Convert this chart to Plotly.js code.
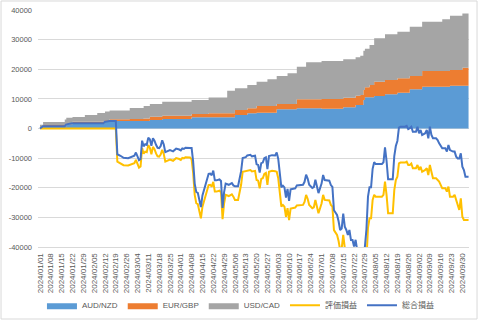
<!DOCTYPE html>
<html><head><meta charset="utf-8">
<script src="https://cdn.plot.ly/plotly-3.0.1.min.js"></script>
<style>html,body{margin:0;padding:0;background:#fff}#chart{width:480px;height:321px}</style>
</head><body><div id="chart"></div>
<script>
// stacked realized profit (step areas)
const areaDates = ['2024-01-01','2024-01-03','2024-01-17','2024-01-18','2024-01-22','2024-01-30','2024-02-07','2024-02-12','2024-02-15','2024-02-28',
'2024-03-08','2024-03-12','2024-03-20','2024-04-08','2024-04-19','2024-05-01','2024-05-06','2024-05-14','2024-05-20','2024-05-27',
'2024-06-02','2024-06-09','2024-06-15','2024-06-21','2024-07-01','2024-07-15','2024-07-23','2024-07-26','2024-07-28','2024-07-29',
'2024-08-01','2024-08-04','2024-08-11','2024-08-19','2024-08-27','2024-09-04','2024-09-17','2024-09-22','2024-09-30','2024-10-04'];
const audNzd = [0,800,800,1400,1750,1750,1750,2300,2500,2500,2500,2870,3200,3780,3780,3780,4560,5130,5330,5330,6480,6480,6820,6820,6700,7150,7930,7930,9620,10530,10530,10970,11540,12080,13230,14110,14110,14440,14440,14440];
const eurGbp = [300,400,400,400,500,500,500,500,600,700,900,1100,1100,1100,1350,1350,1680,1690,2260,2260,1790,1790,3030,3030,3260,3250,3140,3400,3400,3370,4150,4830,4830,4860,4490,5290,5290,5300,6080,6080];
const usdCad = [1000,1000,1800,1800,1650,2300,2950,2950,2950,3700,4200,4300,4750,4750,5370,7620,7330,7860,8210,9010,9430,10360,11010,12490,12820,12950,12960,13200,13200,13000,13500,14640,15420,15730,16640,16640,17450,18330,18330,18330];

// lines
const lineDates = ['01-01','01-03','01-17','01-18','01-22','02-11','02-12','02-15','02-19','02-20','02-22','02-24','02-27','02-29','03-02','03-03','03-04','03-05','03-06','03-07','03-08','03-09','03-10','03-11','03-12','03-13','03-14','03-15','03-16','03-17','03-18','03-19','03-20','03-21','03-22','03-24','03-25','03-27','03-28','03-29','03-31','04-01','04-02','04-03','04-04','04-05','04-07','04-08','04-09','04-10','04-11','04-12','04-13','04-14','04-15','04-16','04-17','04-18','04-19','04-20','04-21','04-22','04-23','04-24','04-26','04-27','04-28','04-29','04-30','05-02','05-04','05-05','05-06','05-08','05-09','05-10','05-11','05-13','05-14','05-16','05-17','05-19','05-20','05-21','05-22','05-23','05-24','05-25','05-26','05-27','05-28','05-30','06-01','06-02','06-03','06-04','06-05','06-06','06-07','06-08','06-09','06-10','06-11','06-12','06-14','06-15','06-17','06-19','06-20','06-21','06-22','06-23','06-25','06-26','06-27','06-29','07-01','07-02','07-03','07-05','07-06','07-07','07-08','07-09','07-11','07-12','07-13','07-14','07-15','07-16','07-17','07-18','07-19','07-20','07-21','07-22','07-23','07-24','07-25','07-26','07-27','07-28','07-29','07-30','07-31','08-01','08-02','08-03','08-04','08-05','08-07','08-09','08-10','08-11','08-12','08-13','08-14','08-16','08-17','08-18','08-19','08-20','08-21','08-23','08-24','08-25','08-26','08-27','08-28','08-29','08-31','09-01','09-02','09-03','09-04','09-06','09-07','09-08','09-09','09-10','09-11','09-13','09-14','09-15','09-17','09-19','09-20','09-21','09-22','09-24','09-25','09-26','09-27','09-28','09-29','09-30','10-01','10-02','10-04'].map(s => '2024-' + s);
const evalPL = [0,0,0,0,0,0,0,0,0,-11200,-11700,-12400,-12500,-12000,-11700,-10600,-12000,-13200,-12800,-6600,-8500,-7800,-8000,-5600,-6500,-8700,-6200,-7000,-8400,-9400,-9500,-8800,-7200,-8600,-11200,-10800,-10500,-10900,-10400,-10000,-10300,-10600,-9900,-10100,-9700,-9800,-9800,-10400,-15000,-22400,-25200,-25500,-27500,-30300,-26400,-24500,-22400,-20500,-19100,-19000,-19600,-18000,-21300,-21300,-21000,-21500,-30600,-25300,-22400,-22800,-22200,-23000,-24100,-24100,-21900,-19000,-14600,-14300,-14200,-14000,-14500,-14300,-17400,-17600,-20200,-17000,-16800,-15300,-15000,-19000,-14600,-14300,-14400,-14600,-16800,-22400,-26400,-25800,-26400,-29800,-26900,-30900,-27000,-26900,-26700,-26000,-25800,-25800,-24800,-22400,-23700,-25800,-26900,-26600,-24100,-28600,-25300,-22400,-24100,-24100,-24300,-25800,-26400,-34300,-35900,-38000,-41000,-40500,-35900,-40300,-41400,-43100,-41400,-44800,-44800,-47000,-45500,-49000,-50000,-50500,-49500,-51000,-50500,-44500,-33500,-30300,-30300,-24100,-22400,-23000,-23000,-23000,-22400,-17900,-22400,-28600,-28600,-28600,-20800,-17400,-16300,-11800,-11500,-11500,-11500,-11200,-12300,-12300,-11800,-13400,-13400,-12300,-14000,-12900,-14600,-14000,-13400,-15700,-12300,-14600,-16800,-16800,-17400,-17900,-20200,-20200,-21300,-19600,-23000,-23000,-22400,-24100,-25800,-27500,-23600,-29800,-30900,-30900,-30900];
const totalPL = [0,800,800,1400,1750,1750,2300,2500,2500,-8700,-9200,-9900,-10000,-9500,-9200,-8100,-9500,-10700,-10300,-4100,-6000,-5300,-5500,-3100,-3600,-5800,-3300,-4100,-5500,-6500,-6600,-5900,-4000,-5400,-8000,-7600,-7300,-7700,-7200,-6800,-7100,-7400,-6700,-6900,-6500,-6600,-6600,-6600,-11200,-18600,-21400,-21700,-23700,-26500,-22600,-20700,-18600,-16700,-15300,-15200,-15800,-14200,-17500,-17500,-17200,-17700,-26800,-21500,-18600,-19000,-18400,-19200,-19500,-19500,-17300,-14400,-10000,-9700,-9100,-8900,-9400,-9200,-12100,-12300,-14900,-11700,-11500,-10000,-9700,-13700,-9300,-9000,-9100,-8100,-10300,-15900,-19900,-19300,-19900,-23300,-20400,-24400,-20500,-20400,-20200,-19200,-19000,-19000,-18000,-15600,-16900,-19000,-20100,-19800,-17300,-21800,-18600,-15700,-17400,-17400,-17600,-19100,-19700,-27600,-29200,-31300,-34300,-33800,-28750,-33150,-34250,-35950,-34250,-37650,-37650,-39850,-37570,-41070,-42070,-42570,-41570,-41380,-39970,-34000,-23000,-19800,-19800,-13600,-11400,-12000,-12000,-12000,-11400,-6400,-10900,-17100,-17100,-17100,-9300,-5900,-4200,300,600,600,600,900,-200,100,600,-1100,-1100,600,-1600,-500,-2200,-1600,-500,-3300,600,-2200,-3300,-3300,-3900,-5000,-6700,-6700,-7800,-5600,-7300,-7800,-7800,-9500,-10100,-10100,-8400,-12900,-14000,-16300,-16300];

const yTickVals = [-40000,-30000,-20000,-10000,0,10000,20000,30000,40000];
const yTickText = ['-40000','-30000','-20000','-10000','0','10000','20000','30000','40000'];

const FONT = 'Liberation Sans, Arial, Noto Sans CJK JP, sans-serif';
const traces = [
  {x: areaDates, y: audNzd, name: 'AUD/NZD', type: 'scatter', mode: 'lines', stackgroup: 'realized',
   line: {shape: 'hv', width: 0, color: '#5B9BD5'}, fillcolor: '#5B9BD5'},
  {x: areaDates, y: eurGbp, name: 'EUR/GBP', type: 'scatter', mode: 'lines', stackgroup: 'realized',
   line: {shape: 'hv', width: 0, color: '#ED7D31'}, fillcolor: '#ED7D31'},
  {x: areaDates, y: usdCad, name: 'USD/CAD', type: 'scatter', mode: 'lines', stackgroup: 'realized',
   line: {shape: 'hv', width: 0, color: '#A5A5A5'}, fillcolor: '#A5A5A5'},
  {x: lineDates, y: evalPL, name: '評価損益', type: 'scatter', mode: 'lines',
   line: {color: '#FFC000', width: 2}},
  {x: lineDates, y: totalPL, name: '総合損益', type: 'scatter', mode: 'lines',
   line: {color: '#4472C4', width: 2}}
];

const layout = {
  width: 480, height: 321,
  margin: {l: 38, r: 11, t: 10, b: 74, autoexpand: false},
  paper_bgcolor: '#fff', plot_bgcolor: '#fff',
  font: {family: FONT, size: 8, color: '#595959'},
  showlegend: true,
  xaxis: {
    type: 'date', range: ['2023-12-30 17:00', '2024-10-04 07:00'], automargin: false,
    tick0: '2024-01-01', dtick: 7 * 86400000, tickformat: '%Y/%m/%d', tickangle: -90,
    showgrid: false, zeroline: false, showline: true, linecolor: '#D9D9D9', linewidth: 1,
    ticks: '', ticklabelstandoff: 2, tickfont: {size: 8, color: '#595959', family: FONT}, fixedrange: true
  },
  yaxis: {
    range: [-40000, 40000], tickvals: yTickVals, ticktext: yTickText, automargin: false,
    showgrid: true, gridcolor: '#D9D9D9', gridwidth: 1,
    zeroline: true, zerolinecolor: '#D9D9D9', zerolinewidth: 1,
    showline: false, ticks: '', ticklabelstandoff: 5,
    tickfont: {size: 7.5, color: '#595959', family: FONT}, fixedrange: true
  },
  legend: {
    orientation: 'h', xref: 'container', yref: 'container',
    x: 0.502, xanchor: 'center', y: 0.094, yanchor: 'top',
    font: {size: 8, color: '#595959', family: FONT}, traceorder: 'normal',
    itemwidth: 30, bgcolor: 'rgba(0,0,0,0)'
  },
  shapes: [{type: 'rect', xref: 'paper', yref: 'paper', x0: -0.0858, x1: 1.0186, y0: -0.3038, y1: 1.038,
    line: {color: '#D9D9D9', width: 1}, layer: 'below'}]
};

Plotly.newPlot('chart', traces, layout, {displayModeBar: false, staticPlot: true});
</script>
</body></html>
